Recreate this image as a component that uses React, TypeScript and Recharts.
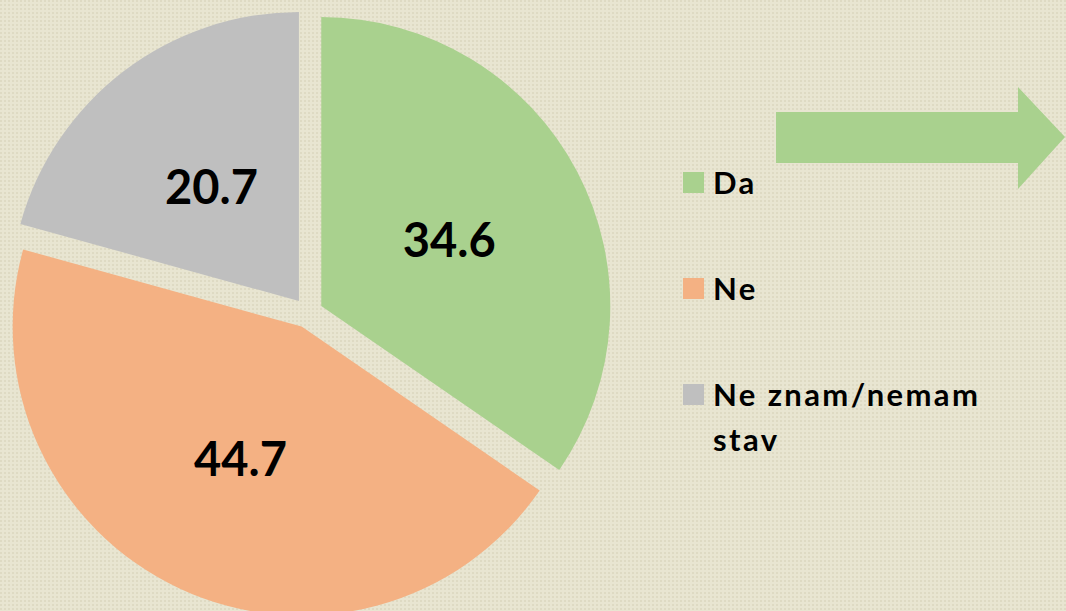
import {PieChart, Pie, Cell} from "recharts";

const categories = ["Da", "Ne", "Ne znam/nemam stav"];
const values = [34.6, 44.7, 20.7];
const colors = ["#a9d18e", "#f4b183", "#bfbfbf"];

const data = categories.map((name, i) => ({name, value: values[i]}));

const W = 1066;
const H = 611;
const CX = 308;
const CY = 313;
const R = 289;
const EXPLODE = 15;
const RADIAN = Math.PI / 180;
const FONT = "Lato, 'Open Sans', sans-serif";

// mid angle of each slice (recharts convention, clockwise from 12 o'clock)
const total = values.reduce((a, b) => a + b, 0);
const midAngles = values.map((v, i) => {
    const before = values.slice(0, i).reduce((a, b) => a + b, 0);
    const start = 90 - (360 * before) / total;
    return start - (180 * v) / total;
});

function makeLabel(visible: number) {
    return (props: any) => {
        const {cx, cy, midAngle, outerRadius, index} = props;
        if (index !== visible) return null;
        const r = outerRadius * 0.5;
        const x = cx + r * Math.cos(-midAngle * RADIAN);
        const y = cy + r * Math.sin(-midAngle * RADIAN);
        return (
            <text x={x} y={y} textAnchor="middle" dominantBaseline="central"
                  fontFamily={FONT} fontWeight={700} fontSize={47} fill="#000">
                {values[index].toFixed(1)}
            </text>
        );
    };
}

export default function App() {
    return (
        <div style={{position: "absolute", left: 0, top: 0, width: W, height: H, overflow: "hidden"}}>
            <svg width={W} height={H} style={{position: "absolute", left: 0, top: 0}}>
                <defs>
                    <pattern id="bgDots" width="4" height="4" patternUnits="userSpaceOnUse">
                        <rect width="4" height="4" fill="#e8e5d1"/>
                        <rect x="0" y="0" width="2" height="2" fill="#dedac3"/>
                    </pattern>
                </defs>
                <rect width={W} height={H} fill="url(#bgDots)"/>
                <polygon points="776,112 1018,112 1018,87 1065,137 1018,189 1018,163 776,163" fill="#a9d18e"/>
            </svg>
            <div style={{position: "absolute", left: 0, top: 0}}>
                <PieChart width={W} height={H} margin={{top: 0, right: 0, bottom: 0, left: 0}}>
                    {values.map((_, k) => (
                        <Pie
                            key={k}
                            data={data}
                            dataKey="value"
                            nameKey="name"
                            cx={CX + EXPLODE * Math.cos(-midAngles[k] * RADIAN)}
                            cy={CY + EXPLODE * Math.sin(-midAngles[k] * RADIAN)}
                            outerRadius={R}
                            startAngle={90}
                            endAngle={-270}
                            stroke="none"
                            label={makeLabel(k)}
                            labelLine={false}
                            legendType="none"
                            isAnimationActive={false}
                        >
                            {data.map((d, i) => (
                                <Cell key={d.name} fill={i === k ? colors[i] : "transparent"}/>
                            ))}
                        </Pie>
                    ))}
                </PieChart>
            </div>
            <div style={{position: "absolute", left: 683, top: 160, fontFamily: FONT, fontWeight: 700, fontSize: 31, color: "#000"}}>
                {categories.map((c, i) => (
                    <div key={c} style={{display: "flex", alignItems: "flex-start", height: 106}}>
                        <div style={{width: 21, height: 21, background: colors[i], marginTop: 12, marginRight: 9, flexShrink: 0}}/>
                        <div style={{width: 300, lineHeight: "45px", letterSpacing: 2.4}}>{c}</div>
                    </div>
                ))}
            </div>
        </div>
    );
}
